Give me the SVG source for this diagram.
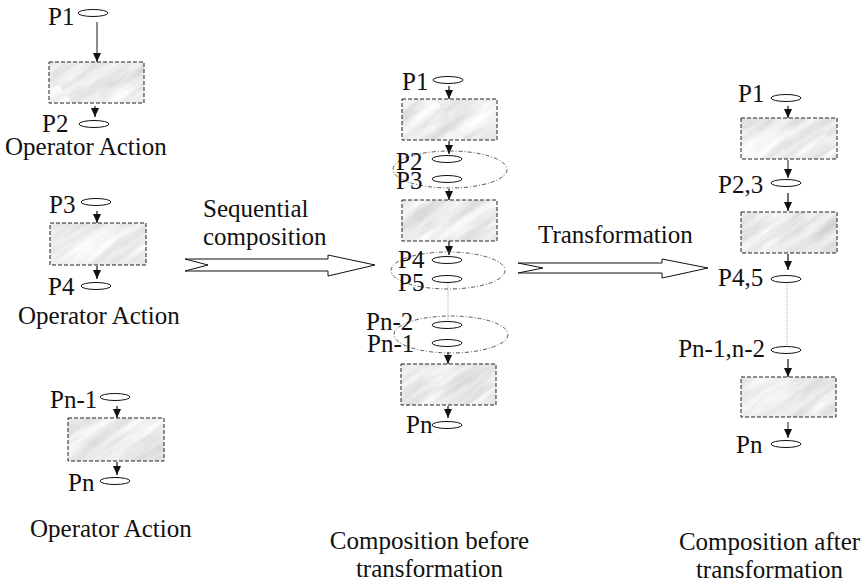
<svg xmlns="http://www.w3.org/2000/svg" width="865" height="585" viewBox="0 0 865 585">
<style>
text{font-family:"Liberation Serif","Times New Roman",serif;font-size:25px;fill:#111}
.box{fill:url(#marble);stroke:none}
.frame{fill:none;stroke:#222;stroke-width:1;stroke-dasharray:4 2}
.pl{fill:#fff;stroke:#111;stroke-width:1}
.ar{stroke:#111;stroke-width:1.2;fill:none;marker-end:url(#ah)}
.arg{stroke:#666;stroke-width:1.5;fill:none;marker-end:url(#ah)}
.grp{fill:none;stroke:#555;stroke-width:1;stroke-dasharray:4 2 1 2}
.dot{stroke:#aaa;stroke-width:1;stroke-dasharray:1 1;fill:none}
.big{fill:#fff;stroke:#111;stroke-width:1}
</style>
<defs>
<marker id="ah" markerUnits="userSpaceOnUse" markerWidth="9" markerHeight="8" refX="9" refY="4" orient="auto"><path d="M0,0 L9,4 L0,8 z" fill="#111"/></marker>
<filter id="mf" x="0" y="0" width="100%" height="100%">
<feTurbulence type="fractalNoise" baseFrequency="0.015 0.09" numOctaves="4" seed="3"/>
<feColorMatrix type="matrix" values="0.5 0 0 0 0.58  0.5 0 0 0 0.58  0.5 0 0 0 0.6  0 0 0 0 1"/>
</filter>
<pattern id="marble" patternUnits="userSpaceOnUse" width="300" height="300" patternTransform="rotate(-35)">
<rect width="300" height="300" filter="url(#mf)"/>
</pattern>
</defs>

<g id="connectors">
<line class="arg" x1="97" y1="22" x2="97" y2="62"/>
<line class="ar" x1="95" y1="106" x2="95" y2="117"/>
<line class="ar" x1="97" y1="211" x2="97" y2="223"/>
<line class="ar" x1="97" y1="266" x2="97" y2="279"/>
<line class="ar" x1="117" y1="406" x2="117" y2="418"/>
<line class="ar" x1="117" y1="462" x2="117" y2="475"/>
<line class="ar" x1="449" y1="86" x2="449" y2="99"/>
<line class="ar" x1="449" y1="141" x2="449" y2="154"/>
<line class="ar" x1="449" y1="189" x2="449" y2="200"/>
<line class="ar" x1="449" y1="241" x2="449" y2="255"/>
<line class="dot" x1="448" y1="283" x2="448" y2="321"/>
<line class="ar" x1="448" y1="352" x2="448" y2="364"/>
<line class="ar" x1="448" y1="406" x2="448" y2="418"/>
<line class="ar" x1="788" y1="106" x2="788" y2="118"/>
<line class="arg" x1="788" y1="160" x2="788" y2="178"/>
<line class="ar" x1="788" y1="193" x2="788" y2="211"/>
<line class="ar" x1="788" y1="254" x2="788" y2="270"/>
<line class="dot" x1="787" y1="284" x2="787" y2="345"/>
<line class="ar" x1="788" y1="359" x2="788" y2="377"/>
<line class="arg" x1="788" y1="422" x2="788" y2="438"/>
</g>

<g id="left-1">
<text x="48" y="25">P1</text><ellipse class="pl" cx="93" cy="13" rx="15" ry="3.5"/>
<rect class="box" x="49" y="62" width="95" height="41"/><rect class="frame" x="49" y="62" width="95" height="41"/>
<text x="42" y="132">P2</text><ellipse class="pl" cx="94" cy="124" rx="15" ry="3.5"/>
<text x="5" y="155">Operator Action</text>
</g>
<g id="left-2">
<text x="49" y="213">P3</text><ellipse class="pl" cx="96" cy="202" rx="15" ry="3.5"/>
<rect class="box" x="50" y="223" width="96" height="42"/><rect class="frame" x="50" y="223" width="96" height="42"/>
<text x="48" y="295">P4</text><ellipse class="pl" cx="96" cy="286" rx="15" ry="3.5"/>
<text x="18" y="324">Operator Action</text>
</g>
<g id="left-3">
<text x="50" y="408">Pn-1</text><ellipse class="pl" cx="115" cy="397" rx="15" ry="3.5"/>
<rect class="box" x="68" y="418" width="96" height="43"/><rect class="frame" x="68" y="418" width="96" height="43"/>
<text x="68" y="491">Pn</text><ellipse class="pl" cx="115" cy="481" rx="15" ry="3.5"/>
<text x="30" y="537">Operator Action</text>
</g>

<g id="seq-arrow">
<polygon class="big" points="185,259 328,259 328,255 375,265 328,276 328,271 185,271 208,265"/>
<text x="203" y="217">Sequential</text>
<text x="203" y="245">composition</text>
</g>

<g id="middle">
<text x="402" y="90">P1</text><ellipse class="pl" cx="448" cy="80" rx="15" ry="3.5"/>
<rect class="box" x="402" y="99" width="95" height="41"/><rect class="frame" x="402" y="99" width="95" height="41"/>
<ellipse class="grp" cx="450" cy="169.5" rx="57" ry="18.5"/>
<text x="396" y="170">P2</text><ellipse class="pl" cx="447" cy="159" rx="15" ry="3.5"/>
<text x="396" y="189">P3</text><ellipse class="pl" cx="447" cy="179" rx="15" ry="3.5"/>
<rect class="box" x="402" y="200" width="95" height="41"/><rect class="frame" x="402" y="200" width="95" height="41"/>
<ellipse class="grp" cx="448" cy="270.5" rx="57" ry="18.5"/>
<text x="398" y="268">P4</text><ellipse class="pl" cx="447" cy="260" rx="15" ry="3.5"/>
<text x="398" y="291">P5</text><ellipse class="pl" cx="447" cy="279" rx="15" ry="3.5"/>
<ellipse class="grp" cx="451" cy="334.5" rx="57" ry="18.5"/>
<text x="366" y="330">Pn-2</text><ellipse class="pl" cx="447" cy="325" rx="15" ry="3.5"/>
<text x="367" y="352">Pn-1</text><ellipse class="pl" cx="447" cy="343" rx="15" ry="3.5"/>
<rect class="box" x="401" y="364" width="95" height="41"/><rect class="frame" x="401" y="364" width="95" height="41"/>
<text x="406" y="433">Pn</text><ellipse class="pl" cx="447" cy="425" rx="15" ry="3.5"/>
<text x="429.5" y="549" text-anchor="middle">Composition before</text>
<text x="429.5" y="577" text-anchor="middle">transformation</text>
</g>

<g id="trans-arrow">
<polygon class="big" points="518,263 662,263 662,259 708,268 662,278 662,273 518,273 543,268"/>
<text x="538" y="243">Transformation</text>
</g>

<g id="right">
<text x="738" y="102">P1</text><ellipse class="pl" cx="786" cy="98" rx="15" ry="3.5"/>
<rect class="box" x="741" y="118" width="96" height="41"/><rect class="frame" x="741" y="118" width="96" height="41"/>
<text x="718" y="193">P2,3</text><ellipse class="pl" cx="786" cy="183" rx="15" ry="3.5"/>
<rect class="box" x="741" y="212" width="96" height="41"/><rect class="frame" x="741" y="212" width="96" height="41"/>
<text x="718" y="286">P4,5</text><ellipse class="pl" cx="786" cy="279" rx="15" ry="3.5"/>
<text x="765" y="357" text-anchor="end">Pn-1,n-2</text><ellipse class="pl" cx="786" cy="350" rx="15" ry="3.5"/>
<rect class="box" x="741" y="377" width="95" height="40"/><rect class="frame" x="741" y="377" width="95" height="40"/>
<text x="736" y="453">Pn</text><ellipse class="pl" cx="786" cy="444" rx="15" ry="3.5"/>
<text x="769.5" y="550" text-anchor="middle">Composition after</text>
<text x="769.5" y="578" text-anchor="middle">transformation</text>
</g>
</svg>
